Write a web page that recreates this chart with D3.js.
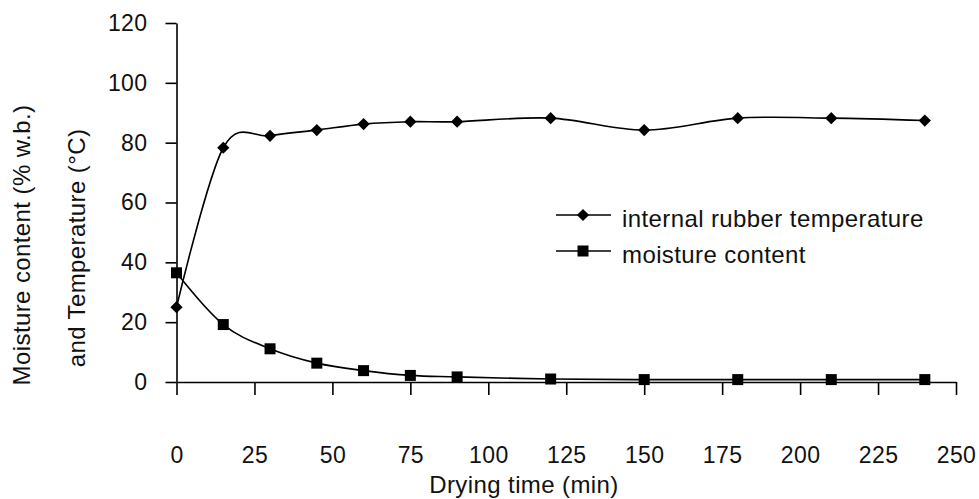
<!DOCTYPE html>
<html>
<head>
<meta charset="utf-8">
<script src="https://cdn.jsdelivr.net/npm/d3@7"></script>
<style>
  body { margin: 0; background: #fff; }
  svg text { font-family: "Liberation Sans", Arial, sans-serif; fill: #111; letter-spacing: 0.4px; }
</style>
</head>
<body>
<div id="chart"></div>
<script>
// drying time (min)
var times = [0, 15, 30, 45, 60, 75, 90, 120, 150, 180, 210, 240];
// internal rubber temperature (°C)
var temperature = [25, 78.3, 82.3, 84.2, 86.2, 87, 87, 88.2, 84.2, 88.2, 88.2, 87.4];
// moisture content (% w.b.)
var moisture = [36.5, 19.2, 11.1, 6.3, 3.8, 2.2, 1.7, 1, 0.8, 0.8, 0.8, 0.8];
var xTicks = [0, 25, 50, 75, 100, 125, 150, 175, 200, 225, 250];
var yTicks = [0, 20, 40, 60, 80, 100, 120];

var width = 979, height = 499;
var svg = d3.select('#chart').append('svg').attr('width', width).attr('height', height);

var x = d3.scaleLinear().domain([0, 250]).range([176.5, 956]);
var y = d3.scaleLinear().domain([0, 120]).range([382, 23]);

// y axis
var yAxis = svg.append('g').attr('transform', 'translate(176.5,0)')
    .call(d3.axisLeft(y).tickValues(yTicks).tickSize(11).tickPadding(18).tickSizeOuter(0));
yAxis.selectAll('text').style('font-size', '23px');
yAxis.selectAll('line, path').attr('stroke', '#000').attr('stroke-width', 1.6);

// x axis, ticks hanging below, labels well below
var xAxis = svg.append('g').attr('transform', 'translate(0,382)')
    .call(d3.axisBottom(x).tickValues(xTicks).tickSize(13).tickPadding(52).tickSizeOuter(0));
xAxis.selectAll('text').style('font-size', '23px');
xAxis.selectAll('line, path').attr('stroke', '#000').attr('stroke-width', 1.6);

// titles
svg.append('text').attr('x', 524).attr('y', 493).attr('text-anchor', 'middle')
    .style('font-size', '24px').text('Drying time (min)');
svg.append('text').attr('transform', 'translate(30,245) rotate(-90)').attr('text-anchor', 'middle')
    .style('font-size', '24px').text('Moisture content (% w.b.)');
svg.append('text').attr('transform', 'translate(85,248) rotate(-90)').attr('text-anchor', 'middle')
    .style('font-size', '24px').text('and Temperature (°C)');

var line = d3.line().curve(d3.curveCatmullRom.alpha(0))
    .x(function (d) { return x(d[0]); })
    .y(function (d) { return y(d[1]); });

var tempData = times.map(function (t, i) { return [t, temperature[i]]; });
var moistData = times.map(function (t, i) { return [t, moisture[i]]; });

var plot = svg.append('g');
plot.append('path').datum(tempData).attr('d', line)
    .attr('fill', 'none').attr('stroke', '#000').attr('stroke-width', 1.6);
plot.append('path').datum(moistData).attr('d', line)
    .attr('fill', 'none').attr('stroke', '#000').attr('stroke-width', 1.6);

var diamond = d3.symbol().type(d3.symbolDiamond2).size(95);
plot.selectAll('.diam').data(tempData).enter().append('path')
    .attr('d', diamond)
    .attr('transform', function (d) { return 'translate(' + x(d[0]) + ',' + y(d[1]) + ')'; })
    .attr('fill', '#000');
plot.selectAll('.sq').data(moistData).enter().append('rect')
    .attr('x', function (d) { return x(d[0]) - 5.5; })
    .attr('y', function (d) { return y(d[1]) - 5.5; })
    .attr('width', 11).attr('height', 11).attr('fill', '#000');

// legend
var legend = svg.append('g');
var legendItems = ['internal rubber temperature', 'moisture content'];
legendItems.forEach(function (name, i) {
    var ly = 215 + i * 36;
    legend.append('line').attr('x1', 556).attr('x2', 611).attr('y1', ly).attr('y2', ly)
        .attr('stroke', '#000').attr('stroke-width', 1.6);
    if (i === 0) {
        legend.append('path').attr('d', diamond).attr('transform', 'translate(583,' + ly + ')').attr('fill', '#000');
    } else {
        legend.append('rect').attr('x', 577.5).attr('y', ly - 5.5).attr('width', 11).attr('height', 11).attr('fill', '#000');
    }
    legend.append('text').attr('x', 622).attr('y', ly + 12).style('font-size', '24px').text(name);
});
</script>
</body>
</html>
